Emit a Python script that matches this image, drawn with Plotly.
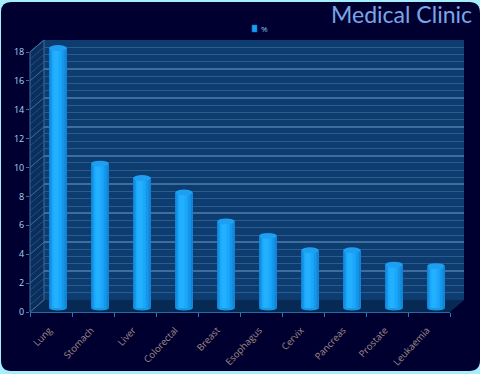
import plotly.graph_objects as go

categories = ["Lung", "Stomach", "Liver", "Colorectal", "Breast", "Esophagus", "Cervix", "Pancreas", "Prostate", "Leukaemia"]
percent = [18, 10, 9, 8, 6, 5, 4, 4, 3, 2.9]
y_ticks = list(range(0, 20, 2))

W, H = 480, 374
FX0, FX1, FY0, FY1 = 30, 450, 312, 52   # front plane (pixels)
DX, DY = 14, -12                        # depth of the box
BAR_W = 0.42
NAVY = "#000030"
WALL = "#0d3c70"
GRID = "#3f6e9e"
MINOR = "#2c5c8e"


def px(x):
    return x / W


def py(y):
    return 1 - y / H


def dom(dx, dy, pad=0.0):
    unit = (FY0 - FY1) / 18
    return dict(x=[px(FX0 + dx), px(FX1 + dx)], y=[py(FY0 + dy + pad * unit), py(FY1 + dy - pad * unit)])


def poly(points):
    return "M " + " L ".join(f"{px(a):.5f},{py(b):.5f}" for a, b in points) + " Z"


fig = go.Figure()

# cylinder body: nested bars, narrowing more from the right, give the shading
shades = ["#1184d6", "#128ee2", "#1498ec", "#18a1f5", "#1ba8fb", "#1facff", "#22b0ff"]
for k, c in enumerate(shades):
    cut = BAR_W * k / (len(shades) + 0.5)
    fig.add_trace(go.Bar(
        x=categories, y=percent, xaxis="x2", yaxis="y2",
        width=BAR_W - cut, offset=-BAR_W / 2 + 0.35 * cut,
        marker=dict(color=c, line=dict(width=0)), name="%",
        showlegend=False, hoverinfo="x+y" if k == len(shades) - 1 else "skip",
    ))

# hidden carriers that keep the wall and front axes alive
clear = dict(color="rgba(0,0,0,0)", line=dict(width=0))
fig.add_trace(go.Bar(x=categories, y=percent, xaxis="x", yaxis="y", showlegend=False,
                     marker=clear, hoverinfo="skip"))
fig.add_trace(go.Bar(x=categories, y=percent, xaxis="x3", yaxis="y3", showlegend=False,
                     marker=clear, hoverinfo="skip"))

shapes = [
    # card
    dict(type="path", xref="paper", yref="paper", layer="below", line=dict(width=0), fillcolor=NAVY,
         path=f"M {px(1)},{py(12)} Q {px(1)},{py(2)} {px(11)},{py(2)} L {px(469)},{py(2)} "
              f"Q {px(480)},{py(2)} {px(480)},{py(13)} L {px(480)},{py(360)} Q {px(480)},{py(371)} {px(469)},{py(371)} "
              f"L {px(11)},{py(371)} Q {px(1)},{py(371)} {px(1)},{py(360)} Z"),
    # back wall, side wall, floor
    dict(type="path", xref="paper", yref="paper", layer="below", fillcolor=WALL, line=dict(width=0),
         path=poly([(FX0 + DX, FY1 + DY), (FX1 + DX, FY1 + DY), (FX1 + DX, FY0 + DY), (FX0 + DX, FY0 + DY)])),
    dict(type="path", xref="paper", yref="paper", layer="below", fillcolor="#0a2f5c", line=dict(color=GRID, width=1),
         path=poly([(FX0, FY1), (FX0 + DX, FY1 + DY), (FX0 + DX, FY0 + DY), (FX0, FY0)])),
    dict(type="path", xref="paper", yref="paper", layer="below", fillcolor="#072a55", line=dict(width=0),
         path=poly([(FX0, FY0), (FX1, FY0), (FX1 + DX, FY0 + DY), (FX0 + DX, FY0 + DY)])),
    # legend swatch
    dict(type="rect", xref="paper", yref="paper", layer="above", x0=px(252), x1=px(257), y0=py(32), y1=py(25),
         fillcolor="#1a9cf0", line=dict(color="#0b6fc0", width=0.5)),
]

# side wall hatch
scale = (FY0 - FY1) / 18
for n in range(0, 37):
    v = n / 2
    y = FY0 - v * scale
    shapes.append(dict(type="line", xref="paper", yref="paper", layer="below",
                       x0=px(FX0), y0=py(y), x1=px(FX0 + DX), y1=py(y + DY),
                       line=dict(color=GRID if n % 4 == 0 else MINOR, width=1 if n % 4 == 0 else 0.7)))

# cylinder ends, through the bar axes
for i, v in enumerate(percent):
    shapes.append(dict(type="circle", xref="x2", yref="y2", layer="below",
                       x0=i - BAR_W / 2, x1=i + BAR_W / 2, y0=-0.17, y1=0.17,
                       fillcolor="#1498ec", line=dict(width=0)))
    shapes.append(dict(type="circle", xref="x2", yref="y2", layer="above",
                       x0=i - BAR_W / 2, x1=i + BAR_W / 2, y0=v - 0.2, y1=v + 0.2,
                       fillcolor="#1e9ff2", line=dict(width=0)))

hidden = dict(showticklabels=False, ticks="", showline=False, zeroline=False, fixedrange=True, automargin=False)
d_wall, d_bar, d_front = dom(DX, DY), dom(DX / 2, -4, pad=1), dom(0, 0)

fig.update_layout(
    width=W, height=H, autosize=False,
    margin=dict(l=0, r=0, t=0, b=0),
    paper_bgcolor="#a6eefc", plot_bgcolor="rgba(0,0,0,0)",
    barmode="overlay", bargap=0, showlegend=False,
    font=dict(family="Open Sans", size=9),
    title=dict(text="Medical Clinic", x=px(472), xanchor="right", xref="paper",
               y=py(15), yanchor="middle", yref="paper", automargin=False,
               font=dict(family="Lato", size=23, color="#7ba6e6")),
    annotations=[dict(text="%", xref="paper", yref="paper", x=px(259), y=py(29), xanchor="left", yanchor="middle",
                      showarrow=False, font=dict(size=8, color="#8fc4f0"))],
    shapes=shapes,
    xaxis=dict(domain=d_wall["x"], anchor="y", range=[-0.5, 9.5], showgrid=False, categoryorder="array",
               categoryarray=categories, **hidden),
    yaxis=dict(domain=d_wall["y"], anchor="x", range=[0, 18], showgrid=True, gridcolor=GRID, gridwidth=1.5, dtick=2,
               minor=dict(dtick=0.5, showgrid=True, gridcolor=MINOR, gridwidth=1), **hidden),
    xaxis2=dict(domain=d_bar["x"], anchor="y2", range=[-0.5, 9.5], showgrid=False, categoryorder="array",
                categoryarray=categories, **hidden),
    yaxis2=dict(domain=d_bar["y"], anchor="x2", range=[-1, 19], showgrid=False, **hidden),
    xaxis3=dict(domain=d_front["x"], anchor="y3", range=[-0.5, 9.5], showgrid=False, categoryorder="array",
                categoryarray=categories, tickangle=-47, tickson="boundaries", ticks="outside", ticklen=4,
                tickcolor="#2a78b8", showline=True, linecolor="#1f6ca8", linewidth=1, zeroline=False,
                ticklabelstandoff=8, ticklabelshift=-2,
                tickfont=dict(color="#a08a84", size=9.5, family="Open Sans"), fixedrange=True, automargin=False),
    yaxis3=dict(domain=d_front["y"], anchor="x3", range=[0, 18], showgrid=False, tickvals=y_ticks, ticks="outside", ticklen=3,
                tickcolor="#3f6e9e", showline=False, zeroline=False,
                tickfont=dict(color="#a8d4fa", size=9, family="Open Sans"), fixedrange=True, automargin=False),
)

fig.write_html("out.html", config=dict(displayModeBar=False),
               post_script="document.body.style.margin='0';")
